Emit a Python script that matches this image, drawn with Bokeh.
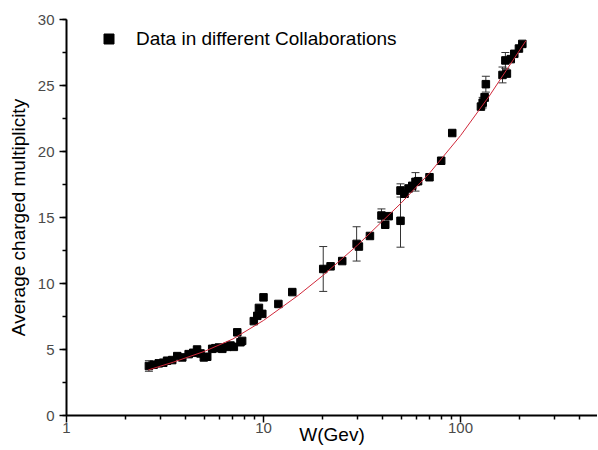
from bokeh.plotting import figure
from bokeh.models import (ColumnDataSource, Whisker, TeeHead, FixedTicker, SingleIntervalTicker,
                          BasicTickFormatter, Legend, LegendItem, Range1d)
from bokeh.embed import file_html
from bokeh.resources import INLINE

# ---- data ----
w_gev = [2.62, 2.77, 2.94, 3.1, 3.24, 3.44, 3.65, 3.87, 4.17, 4.4, 4.6, 4.79, 4.98, 5.18,
         5.49, 5.7, 5.94, 6.18, 6.55, 6.8, 7.07, 7.36, 7.64, 7.79, 8.93, 9.3, 9.48, 9.86,
         10.0, 11.9, 14.0, 20.1, 21.9, 25.1, 29.7, 30.5, 34.7, 39.7, 41.5, 43.2, 49.6, 49.6,
         52.0, 54.5, 56.9, 59.1, 60.9, 69.6, 79.8, 90.8, 127, 129.6, 132.6, 134.5, 163.4,
         172, 169, 180, 187.5, 198, 206]
mult = [3.75, 3.85, 3.95, 4.0, 4.15, 4.2, 4.5, 4.4, 4.65, 4.75, 5.0, 4.7, 4.4, 4.45,
        5.05, 5.1, 5.15, 5.05, 5.2, 5.3, 5.2, 6.3, 5.55, 5.65, 7.15, 7.55, 8.15, 7.7,
        8.95, 8.45, 9.35, 11.1, 11.3, 11.7, 13.0, 12.8, 13.6, 15.15, 14.45, 15.1, 17.05, 14.75,
        16.8, 17.2, 17.4, 17.7, 17.75, 18.05, 19.3, 21.4, 23.4, 23.7, 24.1, 25.1, 25.8,
        25.9, 26.9, 27.0, 27.4, 27.8, 28.15]

# error bars (W, value, half-width)
err_w = [2.62, 20.1, 29.7, 39.7, 49.6, 49.6, 59.1, 129.6, 132.6, 134.5, 163.4, 169]
err_mult = [3.75, 11.1, 13.0, 15.15, 17.05, 14.75, 17.7, 23.7, 24.1, 25.1, 25.8, 26.9]
err_half = [0.4, 1.7, 1.3, 0.5, 0.5, 2.0, 0.7, 0.4, 0.3, 0.6, 0.6, 0.6]

# fitted curve
fit_w = [2.6, 3.5, 5, 7, 10, 15, 20, 30, 40, 50, 70, 100, 140, 170, 215]
fit_mult = [3.45, 4.05, 4.85, 5.8, 7.2, 9.1, 10.6, 12.9, 14.7, 16.1, 18.4, 21.2, 24.2, 26.1, 28.4]

x_major = [1, 10, 100]
x_minor = [2, 3, 4, 5, 6, 7, 8, 9, 20, 30, 40, 50, 60, 70, 80, 90, 200, 300, 400]

legend_label = "Data in different Collaborations"
x_label = "W(Gev)"
y_label = "Average charged multiplicity"

FONT = "Liberation Sans"

p = figure(x_axis_type="log", x_range=Range1d(1, 496), y_range=Range1d(0, 30),
           frame_width=531, frame_height=396,
           min_border_left=66, min_border_right=0, min_border_top=19, min_border_bottom=35,
           output_backend="svg", toolbar_location=None)
p.xgrid.visible = False
p.ygrid.visible = False
p.outline_line_color = None
p.background_fill_color = "white"
p.border_fill_color = "white"

err_src = ColumnDataSource(dict(
    x=err_w,
    upper=[m + h for m, h in zip(err_mult, err_half)],
    lower=[m - h for m, h in zip(err_mult, err_half)],
))
wh = Whisker(source=err_src, base="x", upper="upper", lower="lower", dimension="height",
             line_color="#333333", line_width=1,
             upper_head=TeeHead(size=8, line_color="#333333", line_width=1),
             lower_head=TeeHead(size=8, line_color="#333333", line_width=1))
p.add_layout(wh)

src = ColumnDataSource(dict(x=w_gev, y=mult))
sq = p.scatter("x", "y", source=src, marker="square", size=7.5,
               fill_color="black", line_color="black")

p.line(fit_w, fit_mult, line_color="#d0283a", line_width=1)

legend = Legend(items=[LegendItem(label=legend_label, renderers=[sq])],
                location=(30, 364), padding=0, margin=0, spacing=0,
                glyph_width=25, glyph_height=25, label_standoff=15,
                border_line_color=None, background_fill_alpha=0,
                label_text_font=FONT, label_text_font_size="19px", label_text_color="black")
p.add_layout(legend)

for ax in (p.xaxis, p.yaxis):
    ax.axis_line_color = "black"
    ax.axis_line_width = 2
    ax.major_tick_line_color = "black"
    ax.major_tick_line_width = 1.5
    ax.minor_tick_line_color = "black"
    ax.minor_tick_line_width = 1.5
    ax.major_tick_in = 0
    ax.major_tick_out = 7
    ax.minor_tick_in = 0
    ax.minor_tick_out = 4
    ax.major_label_text_font = FONT
    ax.major_label_text_font_size = "15px"
    ax.major_label_text_color = "#4a4a4a"
    ax.axis_label_text_font = FONT
    ax.axis_label_text_font_size = "19px"
    ax.axis_label_text_font_style = "normal"
    ax.axis_label_text_color = "black"

p.xaxis.ticker = FixedTicker(ticks=x_major, minor_ticks=x_minor)
p.xaxis.formatter = BasicTickFormatter()
p.xaxis.axis_label = x_label
p.xaxis.major_label_standoff = 0
p.xaxis.axis_label_standoff = -12

p.yaxis.ticker = SingleIntervalTicker(interval=5, num_minor_ticks=2)
p.yaxis.axis_label = y_label
p.yaxis.major_label_standoff = 5
p.yaxis.axis_label_standoff = 6

open("out.html", "w").write(file_html(p, INLINE))
